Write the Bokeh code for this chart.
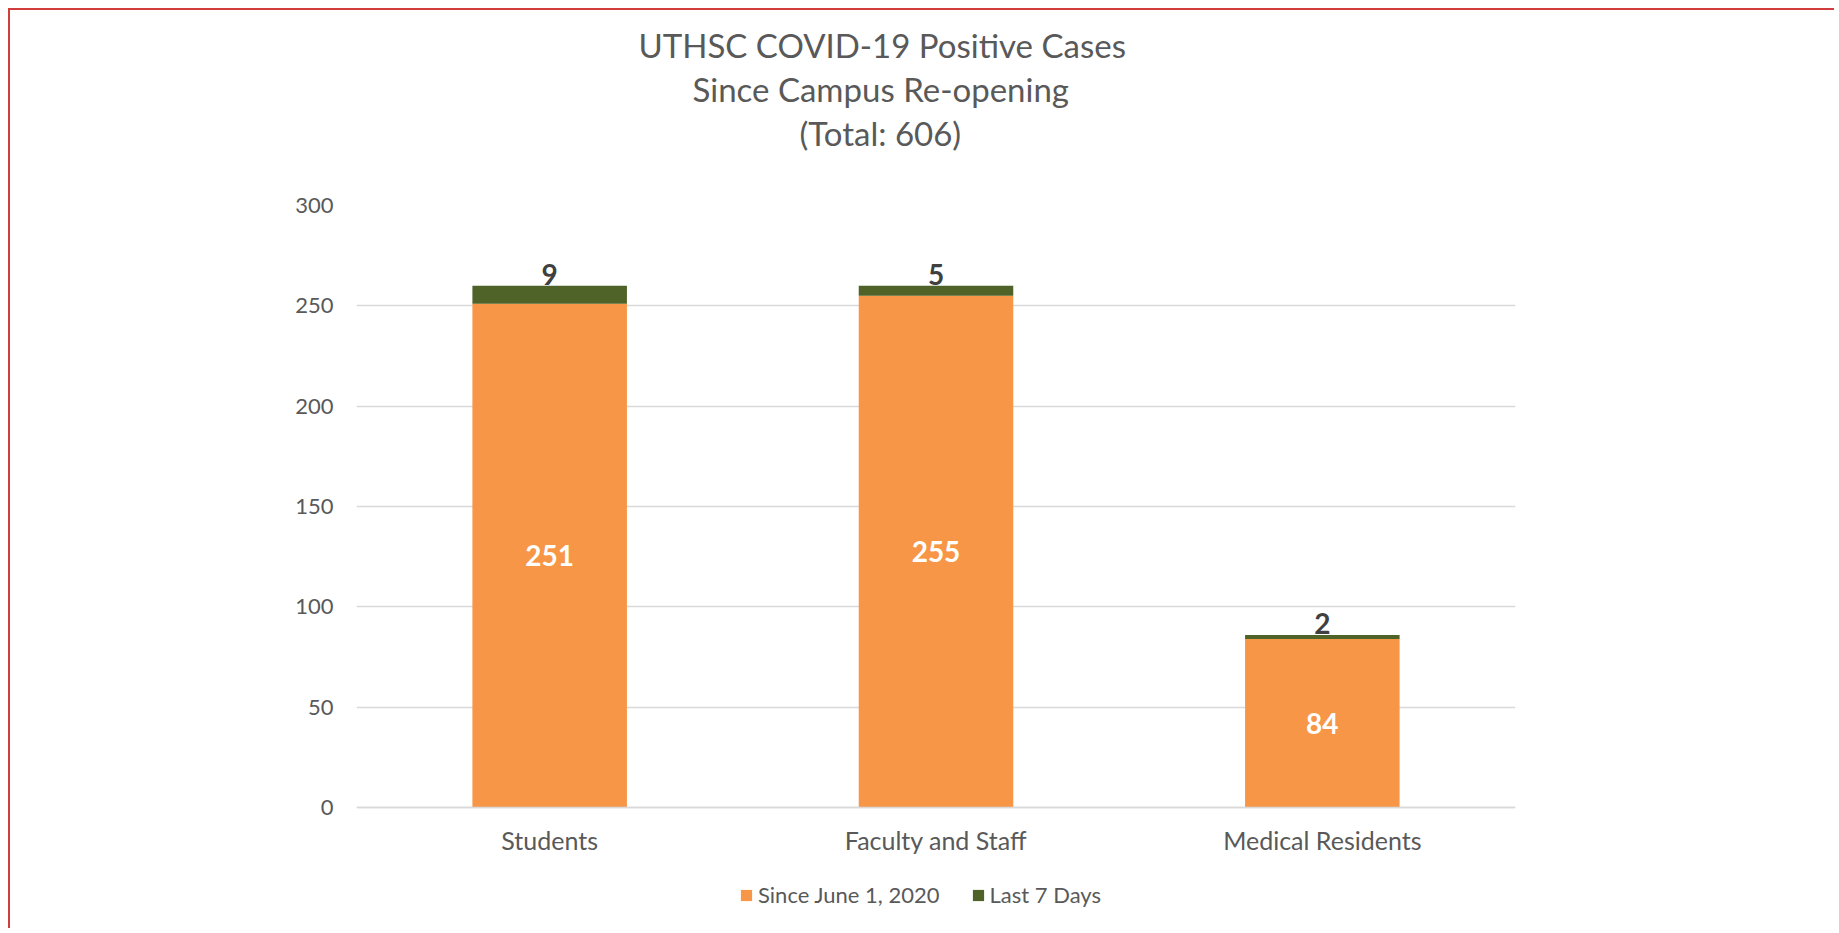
from bokeh.plotting import figure
from bokeh.models import (ColumnDataSource, FactorRange, Range1d, Legend, LegendItem,
                          FixedTicker, Title)
from bokeh.core.properties import value
from bokeh.embed import file_html
from bokeh.resources import INLINE

categories = ["Students", "Faculty and Staff", "Medical Residents"]
since_june = [251, 255, 84]
last_7_days = [9, 5, 2]
series_names = ["Since June 1, 2020", "Last 7 Days"]
title_lines = ["UTHSC COVID-19 Positive Cases", "Since Campus  Re-opening", "(Total: 606)"]
y_ticks = [0, 50, 100, 150, 200, 250, 300]

ORANGE = "#F79646"
GREEN = "#4F6228"
FONT = "Lato"
GREY = "#595959"

totals = [a + b for a, b in zip(since_june, last_7_days)]
src = ColumnDataSource(dict(
    cat=categories, since=since_june, last=last_7_days, total=totals,
    mid=[v / 2 for v in since_june],
    since_txt=[str(v) for v in since_june], last_txt=[str(v) for v in last_7_days],
))

# the frame runs below zero so that the axis labels and the legend sit inside it
p = figure(width=1826, height=920, x_range=FactorRange(*categories), y_range=Range1d(-58.8, 300),
           output_backend="svg", toolbar_location=None, title=None,
           min_border_left=346, min_border_right=321, min_border_top=195, min_border_bottom=5)
p.styles = {"margin-left": "8px", "margin-top": "8px",
            "border-top": "2px solid #D13C3C", "border-left": "2px solid #D13C3C"}
p.outline_line_color = None
p.background_fill_color = "white"
p.border_fill_color = "white"

r = p.vbar_stack(["since", "last"], x="cat", width=0.4, source=src,
                 color=[ORANGE, GREEN], line_color=None)

p.text(x="cat", y="mid", text="since_txt", source=src, text_color="white",
       text_font=value(FONT), text_font_style="bold", text_font_size="28px",
       text_align="center", text_baseline="middle")
p.text(x="cat", y="total", text="last_txt", source=src, text_color="#404040",
       text_font=value(FONT), text_font_style="bold", text_font_size="28px",
       text_align="center", text_baseline="bottom", y_offset=-1)

# axes
p.xgrid.grid_line_color = None
p.ygrid.grid_line_color = "#D9D9D9"
p.ygrid.grid_line_width = 1.5
p.yaxis.ticker = FixedTicker(ticks=y_ticks)
p.yaxis.axis_line_color = None
p.yaxis.major_tick_line_color = None
p.yaxis.minor_tick_line_color = None
p.yaxis.major_tick_out = 0
p.yaxis.minor_tick_out = 0
p.yaxis.major_label_text_font = FONT
p.yaxis.major_label_text_font_size = "22px"
p.yaxis.major_label_text_color = GREY
p.yaxis.major_label_standoff = 23
p.xaxis.fixed_location = 0
p.xaxis.axis_line_color = "#D9D9D9"
p.xaxis.axis_line_width = 1.5
p.xaxis.major_tick_line_color = None
p.xaxis.minor_tick_line_color = None
p.xaxis.major_tick_out = 0
p.xaxis.minor_tick_out = 0
p.xaxis.major_label_text_font = FONT
p.xaxis.major_label_text_font_size = "25px"
p.xaxis.major_label_text_color = GREY
p.xaxis.major_label_standoff = 17

# title: spacer nearest the frame, then lines 3, 2, 1 stacked upward
p.add_layout(Title(text=" ", text_font_size="10px", standoff=38), "above")
offsets = [282, 336, 443]
for line, off in reversed(list(zip(title_lines, offsets))):
    p.add_layout(Title(text=line, align="left", offset=off, standoff=2.4,
                       text_font=FONT, text_font_size="33px", text_font_style="normal",
                       text_color=GREY), "above")

legend = Legend(items=[LegendItem(label=series_names[0], renderers=[r[0]]),
                       LegendItem(label=series_names[1], renderers=[r[1]])],
                orientation="horizontal", location=(383, 17),
                glyph_width=14, glyph_height=14, label_height=14, label_standoff=5,
                spacing=31, padding=0, margin=0, border_line_color=None,
                background_fill_alpha=0, label_text_font=FONT,
                label_text_font_size="22px", label_text_color=GREY)
p.add_layout(legend, "center")

open("out.html", "w").write(file_html(p, INLINE))
